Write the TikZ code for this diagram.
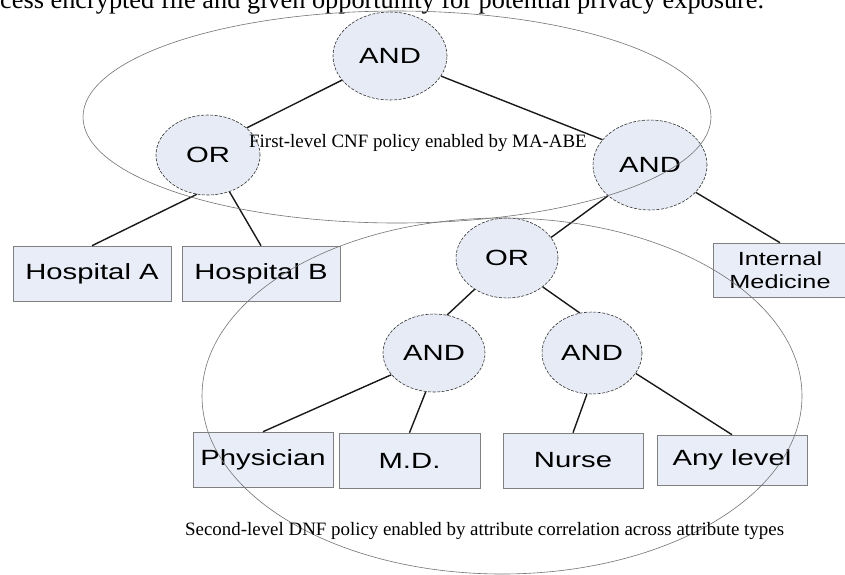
\documentclass[tikz,border=0pt]{standalone}
\usepackage{fontspec}
\setmainfont{Liberation Serif}
\newfontfamily\boxfont[FakeStretch=1.33]{Liberation Sans}
\usetikzlibrary{shapes.geometric}
\definecolor{nodefill}{HTML}{E6EBF5}
\definecolor{boxfill}{HTML}{E9EDF8}
\begin{document}
\begin{tikzpicture}[x=1pt,y=-1pt,
  gate/.style={ellipse, draw=black!80, dash pattern=on 3pt off 1.5pt, line width=0.6pt,
    fill=nodefill, inner sep=0pt, font=\boxfont\fontsize{22}{24}\selectfont},
  attr/.style={rectangle, draw=black!50, line width=0.6pt, fill=boxfill, inner sep=0pt,
    align=center, font=\boxfont\fontsize{22}{24}\selectfont},
  edge/.style={line width=1.4pt, black!90},
  region/.style={draw=black!55, line width=0.6pt},
  lbl/.style={inner sep=0pt, font=\fontsize{18.9}{20}\selectfont}
]
\useasboundingbox (0,0) rectangle (845,574);
\clip (0,0) rectangle (845,574);
\fill[white] (0,0) rectangle (845,574);

% caption fragment at top
\node[anchor=base west, inner sep=0pt, font=\fontsize{26.3}{28}\selectfont] (cap) at (0,8.5)
  {cess encrypted file and given opportunity for potential privacy exposure.};

% gates
\node[gate, minimum width=114, minimum height=88] (and1) at (390,56) {AND};
\node[gate, minimum width=104, minimum height=80] (or1) at (208,155) {OR};
\node[gate, minimum width=114, minimum height=90] (and2) at (650,165) {AND};
\node[gate, minimum width=102, minimum height=80] (or2) at (507,258) {OR};
\node[gate, minimum width=102, minimum height=78] (and3) at (434,353) {AND};
\node[gate, minimum width=100, minimum height=82] (and4) at (592,353) {AND};

% attributes
\node[attr, minimum width=158, minimum height=55] (hospA) at (92,273.5) {Hospital A};
\node[attr, minimum width=158, minimum height=55] (hospB) at (261,273.5) {Hospital B};
\node[attr, minimum width=134, minimum height=54, font=\boxfont\fontsize{19}{23}\selectfont] (intmed) at (780,270) {Internal\\Medicine};
\node[attr, minimum width=140, minimum height=55] (phys) at (263,459.5) {Physician};
\node[attr, minimum width=141, minimum height=55] (md) at (409.5,460.5) {M.D.};
\node[attr, minimum width=140, minimum height=55] (nurse) at (573,460.5) {Nurse};
\node[attr, minimum width=150, minimum height=50] (any) at (732,460) {Any level};

% edges
\draw[edge] (and1) -- (or1.35);
\draw[edge] (and1) -- (and2.152);
\draw[edge] (or1.254) -- (hospA.north);
\draw[edge] (or1) -- (hospB.north);
\draw[edge] (and2) -- (or2.25);
\draw[edge] (and2) -- (intmed.north);
\draw[edge] (or2.224) -- (and3.71);
\draw[edge] (or2.321) -- (and4.107);
\draw[edge] (and3.207) -- (phys.north);
\draw[edge] (and3.258) -- (md.north);
\draw[edge] (and4.263) -- (nurse.north);
\draw[edge] (and4.335) -- (any.north);

% policy regions
\draw[region] (397,117) ellipse [x radius=314, y radius=106];
\draw[region] (502,396) ellipse [x radius=300, y radius=178];

% region labels
\node[lbl, anchor=west] (l1) at (249,143) {First-level CNF policy enabled by MA-ABE};
\node[lbl, anchor=west] (l2) at (185,531) {Second-level DNF policy enabled by attribute correlation across attribute types};
\end{tikzpicture}
\end{document}
